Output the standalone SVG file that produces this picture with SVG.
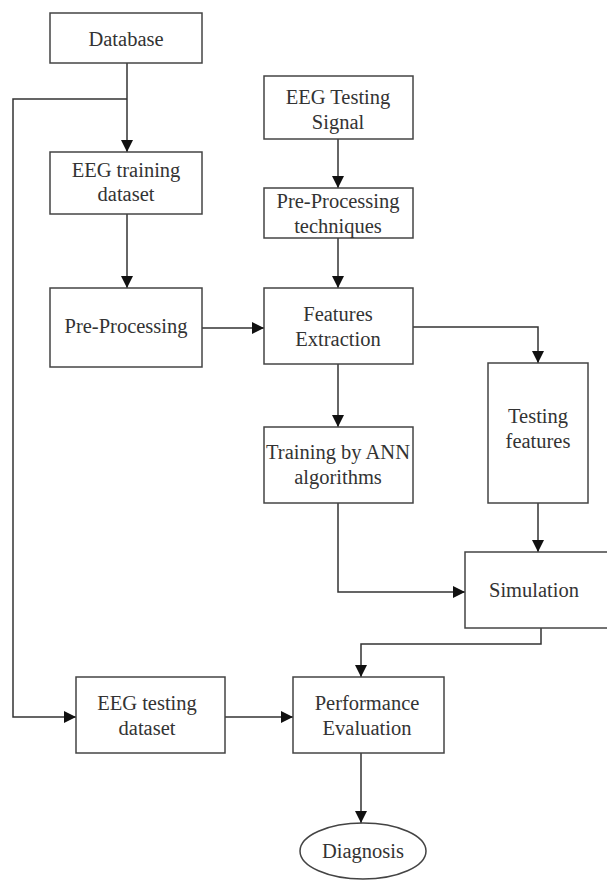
<svg xmlns="http://www.w3.org/2000/svg" width="607" height="881" viewBox="0 0 607 881">
<defs>
<marker id="arr" markerWidth="12" markerHeight="12" refX="12" refY="6" orient="auto" markerUnits="userSpaceOnUse">
<path d="M0,0 L12,6 L0,12 Z" fill="#111"/>
</marker>
<style>
.box{fill:#fff;stroke:#444;stroke-width:1.5}
.lbl{font-family:"Liberation Serif","Times New Roman",serif;font-size:20.5px;fill:#333;text-anchor:middle}
.con{fill:none;stroke:#333;stroke-width:1.5;marker-end:url(#arr)}
</style>
</defs>
<rect width="607" height="881" fill="#fff"/>
<g id="connectors">
<path class="con" d="M127 63 V152"/>
<path class="con" d="M127 99 H13 V717 H76"/>
<path class="con" d="M127 214 V288"/>
<path class="con" d="M202 328 H264"/>
<path class="con" d="M338 139 V188"/>
<path class="con" d="M338 238 V288"/>
<path class="con" d="M413 327 H538 V363"/>
<path class="con" d="M338 364 V427"/>
<path class="con" d="M338 503 V592 H465"/>
<path class="con" d="M538 503 V552"/>
<path class="con" d="M541 628 V644 H361 V677"/>
<path class="con" d="M225 717 H293"/>
<path class="con" d="M361 753 V823"/>
</g>
<g id="database"><rect class="box" x="50" y="13" width="152" height="50"/><text class="lbl" x="126" y="46">Database</text></g>
<g id="eeg-training"><rect class="box" x="50" y="152" width="152" height="62"/><text class="lbl" x="126" y="177">EEG training</text><text class="lbl" x="126" y="201">dataset</text></g>
<g id="pre-processing"><rect class="box" x="50" y="288" width="152" height="79"/><text class="lbl" x="126" y="333">Pre-Processing</text></g>
<g id="eeg-testing-signal"><rect class="box" x="264" y="76" width="149" height="63"/><text class="lbl" x="338" y="104">EEG Testing</text><text class="lbl" x="338" y="129">Signal</text></g>
<g id="pre-proc-tech"><rect class="box" x="264" y="188" width="149" height="50"/><text class="lbl" x="338" y="208">Pre-Processing</text><text class="lbl" x="338" y="233">techniques</text></g>
<g id="features"><rect class="box" x="264" y="288" width="149" height="76"/><text class="lbl" x="338" y="321">Features</text><text class="lbl" x="338" y="346">Extraction</text></g>
<g id="training-ann"><rect class="box" x="264" y="427" width="149" height="76"/><text class="lbl" x="338" y="459">Training by ANN</text><text class="lbl" x="338" y="484">algorithms</text></g>
<g id="testing-features"><rect class="box" x="488" y="363" width="100" height="140"/><text class="lbl" x="538" y="423">Testing</text><text class="lbl" x="538" y="448">features</text></g>
<g id="simulation"><rect class="box" x="465" y="552" width="150" height="76"/><text class="lbl" x="534" y="597">Simulation</text></g>
<g id="eeg-testing-dataset"><rect class="box" x="76" y="677" width="149" height="76"/><text class="lbl" x="147" y="710">EEG testing</text><text class="lbl" x="147" y="735">dataset</text></g>
<g id="performance"><rect class="box" x="293" y="677" width="151" height="76"/><text class="lbl" x="367" y="710">Performance</text><text class="lbl" x="367" y="735">Evaluation</text></g>
<g id="diagnosis"><ellipse class="box" cx="363" cy="851" rx="63" ry="28"/><text class="lbl" x="363" y="858">Diagnosis</text></g>
</svg>
